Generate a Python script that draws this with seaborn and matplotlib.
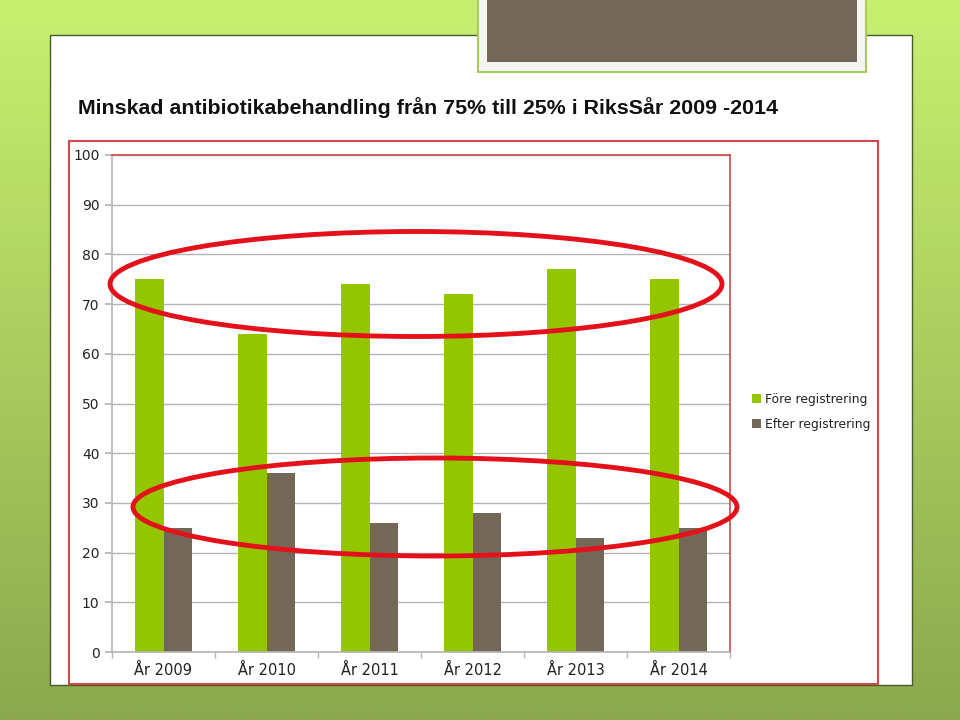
import numpy as np
import pandas as pd
import matplotlib
matplotlib.use("Agg")
import matplotlib.pyplot as plt
import matplotlib.patches as mpatches
import seaborn as sns

# ---- data ----
years = ["År 2009", "År 2010", "År 2011", "År 2012", "År 2013", "År 2014"]
fore = [75, 64, 74, 72, 77, 75]
efter = [25, 36, 26, 28, 23, 25]
series_names = ["Före registrering", "Efter registrering"]
yticks = [0, 10, 20, 30, 40, 50, 60, 70, 80, 90, 100]
title = "Minskad antibiotikabehandling från 75% till 25% i RiksSår 2009 -2014"

df = pd.DataFrame({
    "År": years * 2,
    "Andel": fore + efter,
    "Registrering": [series_names[0]] * len(years) + [series_names[1]] * len(years),
})

GREEN = "#94c600"
GRAY = "#736857"
RED = "#e3121a"

sns.set_theme(style="white")
plt.rcParams["font.family"] = ["DejaVu Sans"]

fig = plt.figure(figsize=(9.6, 7.2), dpi=100)

# background gradient
bg = fig.add_axes([0, 0, 1, 1], zorder=-10)
top = np.array([200, 240, 112]) / 255
bot = np.array([140, 168, 78]) / 255
t = np.linspace(0, 1, 256)[:, None]
grad = top[None, None, :] * (1 - t[..., None]) + bot[None, None, :] * t[..., None]
grad = np.repeat(grad, 4, axis=1)
bg.imshow(grad, aspect="auto", extent=[0, 1, 0, 1])
bg.set_axis_off()

# white panel
fig.patches.append(mpatches.Rectangle((50 / 960, 1 - 685 / 720), 862 / 960, 650 / 720,
                                      transform=fig.transFigure, facecolor="white",
                                      edgecolor="#4a5a30", linewidth=1.0, zorder=-5))
# gray box on top
fig.patches.append(mpatches.Rectangle((478 / 960, 1 - 72 / 720), 388 / 960, 80 / 720,
                                      transform=fig.transFigure, facecolor="#f4f4f0",
                                      edgecolor="#a8cc60", linewidth=1.5, zorder=-4))
fig.patches.append(mpatches.Rectangle((487 / 960, 1 - 62 / 720), 370 / 960, 70 / 720,
                                      transform=fig.transFigure, facecolor=GRAY,
                                      edgecolor="none", zorder=-3))
# red chart-area border
fig.patches.append(mpatches.Rectangle((69 / 960, 1 - 684 / 720), 809 / 960, 543 / 720,
                                      transform=fig.transFigure, facecolor="none",
                                      edgecolor="#d04848", linewidth=1.5, zorder=-2))

fig.text(78 / 960, 1 - 108 / 720, title, fontsize=15.4, fontweight="bold",
         family=["Liberation Sans Narrow", "Liberation Sans"], color="#111111",
         va="center", ha="left")

ax = fig.add_axes([112 / 960, 1 - 652 / 720, 618 / 960, 497 / 720])
sns.barplot(data=df, x="År", y="Andel", hue="Registrering",
            palette=[GREEN, GRAY], width=0.56, gap=0, saturation=1,
            linewidth=0, ax=ax, legend=True)
ax.set_xlim(-0.5, len(years) - 0.5)
ax.set_ylim(0, 100)
ax.set_yticks(yticks)
ax.set_xlabel("")
ax.set_ylabel("")
ax.set_facecolor("white")
ax.grid(axis="y", color="#b4b4b4", linewidth=1.0)
ax.set_axisbelow(True)
for s in ["top", "right"]:
    ax.spines[s].set_color("#d04848")
    ax.spines[s].set_linewidth(1.2)
for s in ["left", "bottom"]:
    ax.spines[s].set_color("#b4b4b4")
    ax.spines[s].set_linewidth(1.2)
ax.tick_params(axis="y", which="major", length=5, color="#b4b4b4", labelsize=10,
               labelcolor="#222222", left=True, pad=4)
ax.set_xticks(np.arange(-0.5, len(years)), minor=True)
ax.tick_params(axis="x", which="major", length=0, labelsize=10.5, labelcolor="#222222", pad=8)
ax.tick_params(axis="x", which="minor", length=4, color="#b4b4b4", bottom=True)

handles, labels = ax.get_legend_handles_labels()
ax.legend_.remove()
fig.legend(handles, labels, loc="center left", bbox_to_anchor=(741 / 960, 1 - 412 / 720),
           frameon=False, fontsize=8.9, handlelength=0.7, handleheight=0.7,
           handletextpad=0.35, labelspacing=0.95, labelcolor="#222222")

# highlight ellipses
fig.patches.append(mpatches.Ellipse((416 / 960, 1 - 284 / 720), 612 / 960, 105 / 720,
                                    transform=fig.transFigure, facecolor="none",
                                    edgecolor=RED, linewidth=3.5, zorder=10))
fig.patches.append(mpatches.Ellipse((435 / 960, 1 - 507 / 720), 604 / 960, 98 / 720,
                                    transform=fig.transFigure, facecolor="none",
                                    edgecolor=RED, linewidth=3.5, zorder=10))

fig.savefig("out.png", dpi=100)
